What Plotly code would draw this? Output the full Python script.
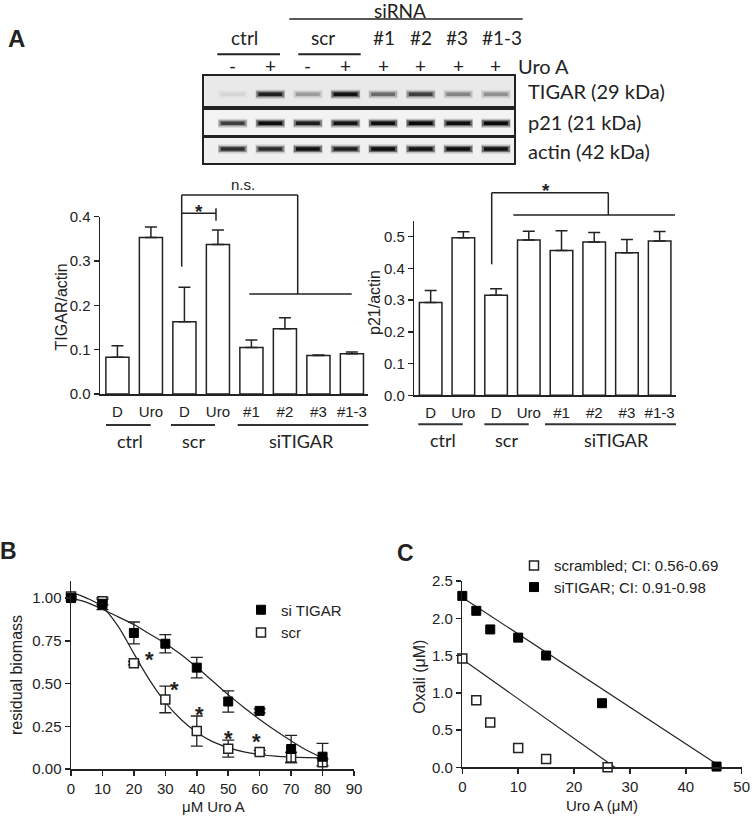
import plotly.graph_objects as go

W, H = 752, 817
def px(x): return x / W
def py(y): return 1 - y / H

ARIAL = "Liberation Sans, Arial, sans-serif"
CALIBRI = "Lato, Open Sans, sans-serif"
INK = "#222222"

# ---------------- data ----------------
lane_names = ["ctrl -", "ctrl +", "scr -", "scr +", "#1", "#2", "#3", "#1-3"]
uro_a_flags = ["-", "+", "-", "+", "+", "+", "+", "+"]
blot_rows = ["TIGAR (29 kDa)", "p21 (21 kDa)", "actin (42 kDa)"]
band_tigar = [0.05, 0.80, 0.22, 0.92, 0.40, 0.60, 0.30, 0.26]
band_p21 = [0.62, 0.95, 0.82, 0.90, 0.95, 1.00, 0.95, 1.00]
band_actin = [0.70, 0.72, 0.92, 0.80, 0.97, 0.90, 0.95, 0.92]

bar_labels = ["D", "Uro", "D", "Uro", "#1", "#2", "#3", "#1-3"]
tigar_actin = [0.083, 0.353, 0.163, 0.337, 0.105, 0.147, 0.087, 0.091]
tigar_actin_err = [0.026, 0.024, 0.078, 0.033, 0.017, 0.025, 0.001, 0.004]
p21_actin = [0.292, 0.496, 0.315, 0.489, 0.456, 0.483, 0.449, 0.486]
p21_actin_err = [0.038, 0.019, 0.021, 0.028, 0.062, 0.030, 0.042, 0.030]

uro_conc = [0, 10, 20, 30, 40, 50, 60, 70, 80]
biomass_sitigar = [1.00, 0.963, 0.796, 0.733, 0.593, 0.395, 0.340, 0.117, 0.072]
biomass_sitigar_err = [0.01, 0.03, 0.064, 0.053, 0.060, 0.062, 0.012, 0.080, 0.078]
biomass_scr = [1.01, 0.982, 0.619, 0.407, 0.222, 0.119, 0.099, 0.068, 0.039]
biomass_scr_err = [0.01, 0.02, 0.01, 0.078, 0.088, 0.050, 0.01, 0.03, 0.02]
fit_conc = [0, 5, 10, 15, 20, 25, 30, 35, 40, 45, 50, 55, 60, 65, 70, 75, 80]
fit_sitigar = [1.00, 0.975, 0.935, 0.89, 0.845, 0.79, 0.735, 0.67, 0.595, 0.515, 0.435, 0.36, 0.29, 0.225, 0.165, 0.11, 0.065]
fit_scr = [1.035, 1.0, 0.948, 0.835, 0.675, 0.52, 0.39, 0.29, 0.215, 0.16, 0.125, 0.10, 0.085, 0.075, 0.07, 0.067, 0.065]
sig_conc = [25, 33, 41, 50, 59]
sig_level = [0.675, 0.50, 0.354, 0.214, 0.198]

iso_sitigar_uro = [0, 2.5, 5, 10, 15, 25, 45.5]
iso_sitigar_oxa = [2.30, 2.10, 1.85, 1.74, 1.50, 0.86, 0.01]
iso_scr_uro = [0, 2.5, 5, 10, 15, 26]
iso_scr_oxa = [1.46, 0.90, 0.60, 0.26, 0.11, 0.0]
add_sitigar_uro = [0, 46.4]
add_sitigar_oxa = [2.28, 0]
add_scr_uro = [0, 27.3]
add_scr_oxa = [1.45, 0]

fig = go.Figure()
shapes = []
ann = []

def seg(x0, y0, x1, y1, w=1.5, c=INK):
    shapes.append(dict(type="line", xref="paper", yref="paper", x0=px(x0), y0=py(y0),
                       x1=px(x1), y1=py(y1), line=dict(color=c, width=w)))

def txt(x, y, s, size=15, family=ARIAL, xanchor="center", angle=0, yshift=0):
    ann.append(dict(x=px(x), y=py(y), xref="paper", yref="paper", text=s, showarrow=False,
                    font=dict(family=family, size=size, color=INK), xanchor=xanchor,
                    yanchor="middle", textangle=angle, yshift=yshift))

# ---------------- blot ----------------
blot_y = [(75.7, 106), (110, 135), (138.3, 163.3)]
band_pos = [0.39, 0.47, 0.57]
box_fill = ["#e9e9e9", "#f3f3f3", "#f0f0f0"]
bands = [band_tigar, band_p21, band_actin]
lane_idx = list(range(len(lane_names)))
for r in range(3):
    xa = "x%d" % (5 + r)
    ya = "y%d" % (5 + r)
    y0, y1 = blot_y[r]
    shapes.append(dict(type="rect", xref="paper", yref="paper", x0=px(204.3), x1=px(514.3),
                       y0=py(y1), y1=py(y0), fillcolor=box_fill[r], line=dict(width=0), layer="below"))
    for wdt, alpha, sz in [(9, 0.22, 21), (6, 0.5, 20), (3.5, 1.0, 17)]:
        fig.add_trace(go.Scatter(
            x=lane_idx, y=[band_pos[r]] * 8, mode="markers", xaxis=xa, yaxis=ya,
            showlegend=False, hoverinfo="skip",
            marker=dict(symbol="line-ew", size=sz,
                        line=dict(width=wdt, color=["rgba(10,10,10,%.3f)" % (v * alpha) for v in bands[r]]))))
    txt(526, (y0 + y1) / 2, blot_rows[r], size=20, family=CALIBRI, xanchor="left")

for i, f in enumerate(uro_a_flags):
    ann.append(dict(x=i, xref="x5", y=py(65.7), yref="paper", text=f, showarrow=False,
                    font=dict(family=CALIBRI, size=19, color=INK), yanchor="middle"))
txt(516, 65.7, "Uro A", size=20, family=CALIBRI, xanchor="left")
txt(400, 10.7, "siRNA", size=19, family=CALIBRI)
seg(289.3, 19, 522.7, 19)
txt(244, 38, "ctrl", size=19, family=CALIBRI)
txt(323.3, 38, "scr", size=19, family=CALIBRI)
for xx, s in [(384.3, "#1"), (420.7, "#2"), (456.7, "#3"), (501.7, "#1-3")]:
    txt(xx, 38, s, size=19, family=CALIBRI)
seg(217.3, 54.3, 280, 54.3, w=2)
seg(298.3, 54.3, 360.7, 54.3, w=2)
txt(16, 38.7, "<b>A</b>", size=24)

# ---------------- bar charts ----------------
fig.add_trace(go.Bar(x=lane_idx, y=tigar_actin, xaxis="x", yaxis="y", width=0.69,
                     marker=dict(color="white", line=dict(color=INK, width=1.5)),
                     error_y=dict(type="data", symmetric=False, array=tigar_actin_err,
                                  arrayminus=[0] * 8, color=INK, thickness=1.5, width=6),
                     showlegend=False))
fig.add_trace(go.Bar(x=lane_idx, y=p21_actin, xaxis="x2", yaxis="y2", width=0.69,
                     marker=dict(color="white", line=dict(color=INK, width=1.5)),
                     error_y=dict(type="data", symmetric=False, array=p21_actin_err,
                                  arrayminus=[0] * 8, color=INK, thickness=1.5, width=6),
                     showlegend=False))

# brackets left
seg(181.7, 266.7, 181.7, 195)
seg(181.7, 195, 297.7, 195)
seg(297.7, 195, 297.7, 294)
seg(249.3, 294, 351.7, 294)
seg(181.7, 213.3, 216, 213.3)
seg(216, 208.3, 216, 220.7)
txt(242.7, 184, "n.s.", size=15)
txt(199, 206, "<b>*</b>", size=19, yshift=-5)
# brackets right
seg(491.7, 264.3, 491.7, 192.7)
seg(491.7, 192.7, 608.3, 192.7)
seg(608.3, 192.7, 608.3, 215)
seg(513.3, 215, 675, 215)
txt(545.7, 185, "<b>*</b>", size=19, yshift=-5)

# group underlines
for (a, b) in [(106, 150.7), (171, 215), (237.7, 368.3)]:
    seg(a, 425, b, 425, w=2, c="#333")
for (a, b) in [(418.3, 462.7), (484.3, 528.7), (545, 676)]:
    seg(a, 424.3, b, 424.3, w=2, c="#333")
for xx, s in [(130, "ctrl"), (193, "scr"), (301.7, "siTIGAR")]:
    txt(xx, 440.7, s, size=18, family=CALIBRI)
for xx, s in [(442.7, "ctrl"), (506, "scr"), (616, "siTIGAR")]:
    txt(xx, 440, s, size=18, family=CALIBRI)
txt(61.7, 306.7, "TIGAR/actin", size=16, angle=-90)
txt(375, 303, "p21/actin", size=16, angle=-90)

# ---------------- panel B ----------------
fig.add_trace(go.Scatter(x=fit_conc, y=fit_sitigar, mode="lines", line=dict(color=INK, width=1.2, shape="spline"),
                         xaxis="x3", yaxis="y3", showlegend=False, hoverinfo="skip", cliponaxis=False))
fig.add_trace(go.Scatter(x=fit_conc, y=fit_scr, mode="lines", line=dict(color=INK, width=1.2, shape="spline"),
                         xaxis="x3", yaxis="y3", showlegend=False, hoverinfo="skip", cliponaxis=False))
fig.add_trace(go.Scatter(x=uro_conc, y=biomass_scr, mode="markers", name="scr", legend="legend2",
                         marker=dict(symbol="square", size=9, color="white", line=dict(color=INK, width=1.5)),
                         error_y=dict(type="data", array=biomass_scr_err, color=INK, thickness=1.3, width=6),
                         xaxis="x3", yaxis="y3", cliponaxis=False))
fig.add_trace(go.Scatter(x=uro_conc, y=biomass_sitigar, mode="markers", name="si TIGAR", legend="legend",
                         marker=dict(symbol="square", size=9, color="black", line=dict(color="black", width=1)),
                         error_y=dict(type="data", array=biomass_sitigar_err, color=INK, thickness=1.3, width=6),
                         xaxis="x3", yaxis="y3", cliponaxis=False))
for xx, yy in zip(sig_conc, sig_level):
    ann.append(dict(x=xx, y=yy, xref="x3", yref="y3", text="<b>*</b>", showarrow=False,
                    font=dict(family=ARIAL, size=22, color=INK), yshift=-6))
txt(8.3, 550.5, "<b>B</b>", size=23)
txt(16, 675, "residual biomass", size=16, angle=-90)
txt(213, 806, "μM Uro A", size=15)

# ---------------- panel C ----------------
fig.add_trace(go.Scatter(x=add_sitigar_uro, y=add_sitigar_oxa, mode="lines", line=dict(color=INK, width=1.2),
                         xaxis="x4", yaxis="y4", showlegend=False, hoverinfo="skip", cliponaxis=False))
fig.add_trace(go.Scatter(x=add_scr_uro, y=add_scr_oxa, mode="lines", line=dict(color=INK, width=1.2),
                         xaxis="x4", yaxis="y4", showlegend=False, hoverinfo="skip", cliponaxis=False))
fig.add_trace(go.Scatter(x=iso_scr_uro, y=iso_scr_oxa, mode="markers", name="scrambled; CI: 0.56-0.69",
                         legend="legend3",
                         marker=dict(symbol="square", size=9, color="white", line=dict(color=INK, width=1.5)),
                         xaxis="x4", yaxis="y4", cliponaxis=False))
fig.add_trace(go.Scatter(x=iso_sitigar_uro, y=iso_sitigar_oxa, mode="markers", name="siTIGAR; CI: 0.91-0.98",
                         legend="legend4",
                         marker=dict(symbol="square", size=9, color="black", line=dict(color="black", width=1)),
                         xaxis="x4", yaxis="y4", cliponaxis=False))
txt(405.5, 553, "<b>C</b>", size=23)
txt(420, 676.7, "Oxali (μM)", size=16, angle=-90)
txt(601.7, 805, "Uro A (μM)", size=15)

# ---------------- axes ----------------
def ax(domain_px, horiz, **kw):
    if horiz:
        d = [px(domain_px[0]), px(domain_px[1])]
    else:
        d = [py(domain_px[1]), py(domain_px[0])]
    base = dict(domain=d, showgrid=False, zeroline=False, showline=True, linecolor=INK, linewidth=1.5,
                tickfont=dict(family=ARIAL, size=15, color=INK), tickcolor=INK, tickwidth=1.5,
                automargin=False)
    base.update(kw)
    return base

layout = dict(
    width=W, height=H, margin=dict(l=0, r=0, t=0, b=0, pad=0, autoexpand=False), autosize=False,
    paper_bgcolor="white", plot_bgcolor="rgba(0,0,0,0)",
    xaxis=ax((100, 368), True, range=[-0.52, 7.48], tickvals=lane_idx, ticktext=bar_labels,
             ticks="outside", ticklen=3, tickcolor="rgba(0,0,0,0)", anchor="y"),
    yaxis=ax((216.7, 394), False, range=[0, 0.4], dtick=0.1, tickformat=".1f", ticks="outside",
             ticklen=5, anchor="x"),
    xaxis2=ax((414.3, 676), True, range=[-0.5, 7.5], tickvals=lane_idx, ticktext=bar_labels,
              ticks="outside", ticklen=3, tickcolor="rgba(0,0,0,0)", anchor="y2"),
    yaxis2=ax((220.7, 395.3), False, range=[0, 0.55], tickvals=[0, 0.1, 0.2, 0.3, 0.4, 0.5],
              tickformat=".1f", ticks="outside", ticklen=5, anchor="x2"),
    xaxis3=ax((71, 354), True, range=[0, 90], dtick=10, ticks="outside", ticklen=5, anchor="y3"),
    yaxis3=ax((581, 769), False, range=[0, 1.1], tickvals=[0, 0.25, 0.5, 0.75, 1.0], tickformat=".2f",
              ticks="outside", ticklen=5, anchor="x3"),
    xaxis4=ax((462.3, 741.7), True, range=[0, 50], dtick=10, ticks="outside", ticklen=5, anchor="y4"),
    yaxis4=ax((581, 767.3), False, range=[0, 2.5], dtick=0.5, tickformat=".1f", ticks="outside",
              ticklen=5, anchor="x4"),
)
for r in range(3):
    y0, y1 = blot_y[r]
    layout["xaxis%d" % (5 + r)] = ax((204.3, 514.3), True, range=[-0.755, 7.49], showticklabels=False,
                                     ticks="", mirror=True, linewidth=2, anchor="y%d" % (5 + r))
    layout["yaxis%d" % (5 + r)] = ax((y0, y1), False, range=[0, 1], showticklabels=False,
                                     ticks="", mirror=True, linewidth=2, anchor="x%d" % (5 + r))

leg_common = dict(font=dict(family=ARIAL, size=15, color=INK), bgcolor="rgba(0,0,0,0)",
                  xanchor="left", yanchor="middle", itemwidth=30, borderwidth=0)
layout["legend"] = dict(x=px(241), y=py(610), **leg_common)
layout["legend2"] = dict(x=px(241), y=py(632.7), **leg_common)
layout["legend3"] = dict(x=px(514), y=py(565.7), **leg_common)
layout["legend4"] = dict(x=px(514), y=py(587.3), **leg_common)
layout["shapes"] = shapes
layout["annotations"] = ann
layout["showlegend"] = True
layout["hovermode"] = False
fig.update_layout(**layout)
fig.write_html("out.html", config={"displayModeBar": False, "staticPlot": True},
               post_script="document.body.style.margin='0px';document.body.style.overflow='hidden';")
